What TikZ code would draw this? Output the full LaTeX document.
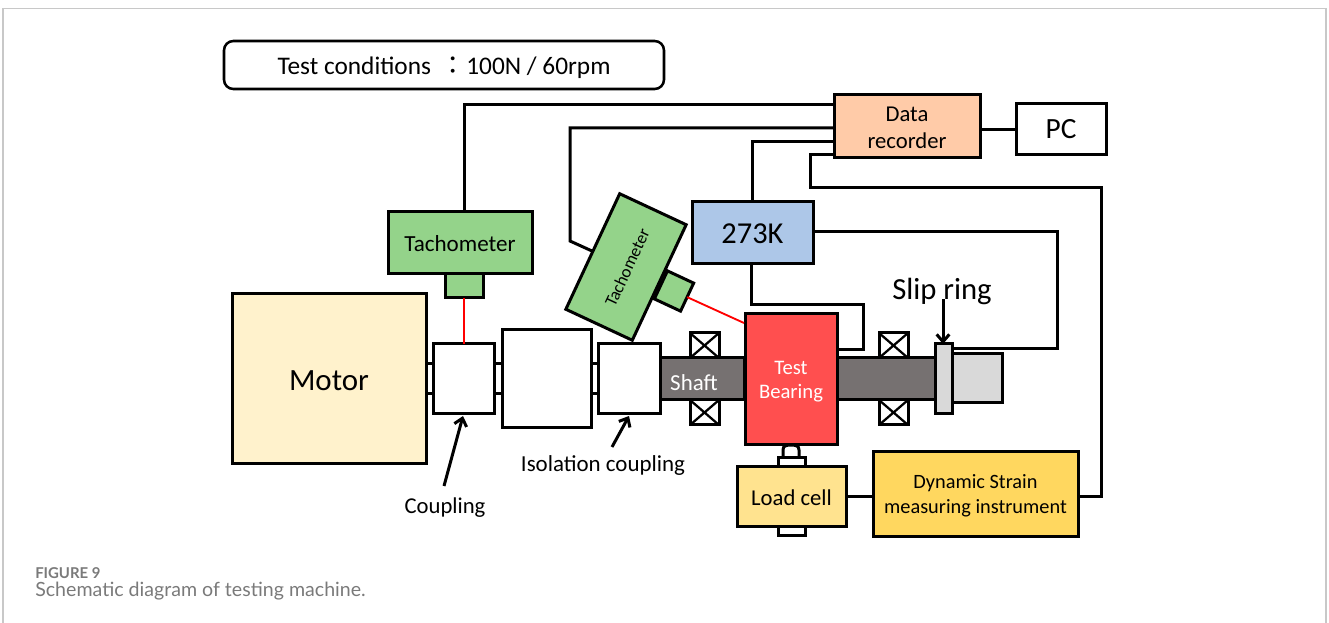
\documentclass[tikz,border=0pt]{standalone}
\usepackage{fontspec}
\setmainfont{Carlito}
\newfontfamily\capfont{Lato}
\newfontfamily\cjk{Noto Sans CJK TC}
\usetikzlibrary{arrows.meta,calc}
\definecolor{motorc}{HTML}{FFF2CC}
\definecolor{greenc}{HTML}{94D38A}
\definecolor{bluec}{HTML}{ADC7E8}
\definecolor{recc}{HTML}{FFCBA8}
\definecolor{shaftc}{HTML}{767171}
\definecolor{redc}{HTML}{FF4F4F}
\definecolor{lightc}{HTML}{D9D9D9}
\definecolor{loadc}{HTML}{FFE38F}
\definecolor{strainc}{HTML}{FFD75F}
\definecolor{frameg}{HTML}{C8C8C8}
\definecolor{capg}{HTML}{7A7A7A}
\tikzset{
  x=0.75pt,y=-0.75pt,
  px/.style={line width=2.25pt},
  box/.style={draw=black,px,inner sep=0pt,outer sep=0pt,rectangle,align=center,text=black},
  wire/.style={draw=black,px,line join=miter},
  redwire/.style={draw=red,line width=1.4pt},
  point/.style={draw=black,px,-{Straight Barb[length=5.5pt,width=9.5pt]}},
  lbl/.style={inner sep=0pt,outer sep=0pt,align=center,text=black},
  fs/.style={font=\fontsize{#1}{#1}\selectfont},
}
\newcommand{\dn}[2]{\raisebox{-#1}[\height][\depth]{#2}}
\newcommand{\bx}[7][]{\node[box,minimum width={(#5-#3)*0.75pt},minimum height={(#6-#4)*0.75pt},#1] (#2) at ({(#3+#5)/2},{(#4+#6)/2}) {#7};}
\newcommand{\crossbx}[5]{\bx[fill=white]{#1}{#2}{#3}{#4}{#5}{}\draw[px,line width=1.7pt] (#1.north west) -- (#1.south east) (#1.north east) -- (#1.south west);}
\begin{document}
\begin{tikzpicture}
\useasboundingbox (0,0) rectangle (1329,623);
% card frame
\draw[frameg,line width=1pt] (3,623) -- (3,8.5) -- (1326,8.5) -- (1326,623);
% title
\bx[rounded corners=7pt,fs={19},line width=1.9pt]{cond}{224}{41}{664}{89}{\dn{2.2pt}{Test conditions \,{\cjk：}100N / 60rpm}}
% equipment
\bx[fill=motorc,fs={23.2}]{motor}{232}{294}{426}{464}{\dn{1.5pt}{Motor}}
\bx[fill=white]{coup}{433}{344}{494}{414}{}
\bx[fill=white]{mid}{502}{330}{591}{428}{}
\bx[fill=white]{iso}{598}{344}{660}{414}{}
\foreach \yy in {364,394}{
  \draw[wire] (motor.east |- 0,\yy) -- (coup.west |- 0,\yy);
  \draw[wire] (coup.east |- 0,\yy) -- (mid.west |- 0,\yy);
  \draw[wire] (mid.east |- 0,\yy) -- (iso.west |- 0,\yy);
}
\bx[fill=lightc]{stub}{945}{354}{1002}{403}{}
\bx[fill=shaftc]{shaft}{660}{358}{744}{400}{}
\bx[fill=shaftc]{shaftb}{837}{358}{935}{400}{}
\node[lbl,text=white,fs={17.2}] (shaftl) at (694,383) {Shaft};
\crossbx{b1}{690}{333}{719}{358}
\crossbx{b2}{690}{400}{719}{425}
\crossbx{b3}{879}{333}{908}{358}
\crossbx{b4}{879}{400}{908}{425}
\bx[fill=redc,text=white,fs={15.5}]{test}{745}{314}{837}{445}{\dn{1.5pt}{Test}\\[2.5pt]\dn{1.5pt}{Bearing}}
\bx[fill=lightc]{slip}{935}{344}{952}{414}{}
% load cell
\draw[px,fill=white] (783,458) -- (783,450) .. controls (783,446) and (786,445) .. (791,445) .. controls (796,445) and (799,446) .. (799,450) -- (799,458);
\bx[fill=white]{studt}{778}{458}{805}{467}{}
\bx[fill=white]{studb}{778}{527}{805}{536}{}
\bx[fill=loadc,fs={17}]{load}{737}{467}{846}{527}{\dn{0.75pt}{Load cell}}
\bx[fill=strainc,fs={15.25}]{strain}{873}{452}{1078}{537}{\dn{0.75pt}{Dynamic Strain}\\[3.5pt]\dn{0.75pt}{measuring instrument}}
% instruments
\bx[fill=recc,fs={17}]{rec}{834}{95}{980}{158}{\dn{0.75pt}{Data}\\[3pt]\dn{0.75pt}{recorder}}
\bx[fill=white,fs={22}]{pc}{1016}{104}{1106}{155}{PC}
\bx[fill=bluec,fs={22.8}]{k}{692}{202}{813}{264}{\dn{0.75pt}{273K}}
\bx[fill=greenc,fs={17.3}]{tacha}{388}{212}{532}{274}{\dn{0.75pt}{Tachometer}}
\bx[fill=greenc]{sensa}{445}{274}{483}{298}{}
\node[box,fill=greenc,minimum width=23.2pt,minimum height=21.7pt,rotate=65] (sensb) at (674,291) {};
\node[box,fill=greenc,minimum width=95.6pt,minimum height=55pt,rotate=65,fs={13}] (tachb) at (626,267) {\dn{1pt}{Tachometer}};
% wires
\coordinate (tbin) at (592,251);
\coordinate (tbend) at (570,241);
\coordinate (rbin) at (744,323);
\draw[redwire] (sensa.south) -- (coup.north -| sensa.south);
\draw[redwire] (sensb.south) -- (rbin);
\draw[wire] (sensa.center |- tacha.north) -- (sensa.center |- 0,105) -- (rec.west |- 0,105);
\draw[wire] (tbin) -- (tbend) -- (tbend |- 0,128) -- (rec.west |- 0,128);
\draw[wire] (k.north -| 752,0) -- (752,142) -- (rec.west |- 0,142);
\draw[wire] (rec.west |- 0,155) -- (810,155) -- (810,188) -- (1101,188) -- (1101,497) -- (strain.east |- 0,497);
\draw[wire] (rec.east |- pc.west) -- (pc.west);
\draw[wire] (k.south -| 751,0) -- (751,305) -- (863,305) -- (863,350) -- (test.east |- 0,350);
\draw[wire] (k.east |- 0,232) -- (1057,232) -- (1057,349) -- (slip.east |- 0,349);
\draw[wire] (load.east |- 0,497) -- (strain.west |- 0,497);
% labels and pointers
\node[lbl,fs={23}] (sliplbl) at (942,291) {Slip ring};
\node[lbl,fs={17}] (couplbl) at (445,508) {Coupling};
\node[lbl,fs={17.2}] (isolbl) at (603,466) {Isolation coupling};
\coordinate (sa) at (943,299);
\draw[point] (sa) -- (slip.north -| sa);
\coordinate (ca) at (444,486);
\coordinate (ct) at (463,416);
\draw[point] (ca) -- (ct);
\coordinate (ia) at (612,447);
\coordinate (it) at (629,416);
\draw[point] (ia) -- (it);
% caption
\node[anchor=west,inner sep=0pt,text=capg,fs={11.2}] (figno) at (35,573) {\capfont\bfseries FIGURE 9};
\node[anchor=west,inner sep=0pt,text=capg,fs={14.7}] (figcap) at (35,591) {\capfont Schematic diagram of testing machine.};
\end{tikzpicture}
\end{document}
